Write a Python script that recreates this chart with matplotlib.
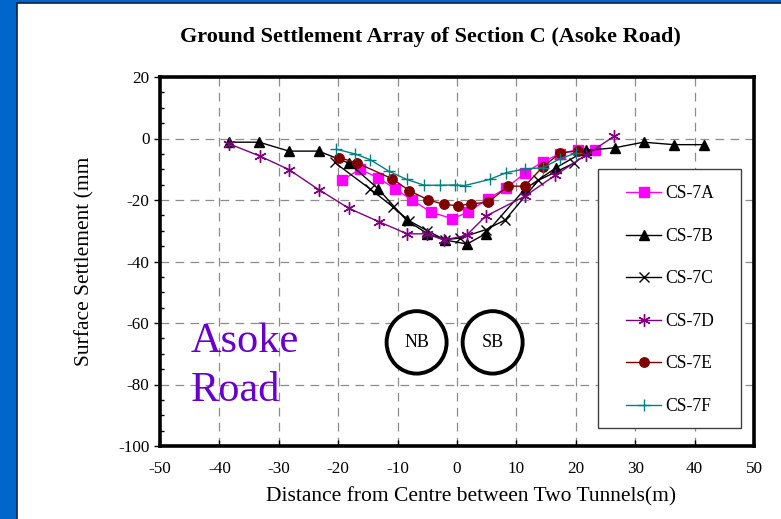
import numpy as np
import matplotlib
matplotlib.use('Agg')
import matplotlib.pyplot as plt
from matplotlib.patches import Rectangle, Ellipse
from matplotlib.ticker import MultipleLocator

plt.rcParams['font.family'] = ['Liberation Serif', 'DejaVu Serif']
plt.rcParams['axes.unicode_minus'] = False

# settlement arrays (distance m, settlement mm)
x_7a = [-19.3, -16.4, -13.3, -10.5, -7.5, -4.4, -0.8, 1.8, 5.2, 8.3, 11.4, 14.4, 17.4, 20.4, 23.2]
y_7a = [-13.6, -10.0, -12.7, -16.3, -20.1, -23.9, -26.1, -24.0, -19.6, -16.1, -11.3, -7.6, -4.9, -3.6, -3.8]

x_7b = [-38.4, -33.3, -28.3, -23.3, -18.2, -13.3, -8.5, -5.0, -2.1, 1.7, 4.8, 11.4, 16.6, 21.7, 26.6, 31.4, 36.5, 41.6]
y_7b = [-1.2, -1.2, -4.1, -4.1, -8.0, -16.3, -26.6, -30.9, -33.0, -34.3, -31.0, -16.5, -9.6, -3.9, -3.0, -1.2, -2.0, -2.0]

x_7c = [-20.6, -14.7, -10.8, -8.1, -5.0, -2.1, 0.5, 4.9, 8.1, 13.7, 19.7]
y_7c = [-7.8, -16.3, -22.2, -26.7, -30.0, -32.9, -32.4, -29.6, -26.5, -13.6, -8.0]

x_7d = [-38.4, -33.2, -28.3, -23.3, -18.2, -13.1, -8.4, -5.1, -2.2, 1.6, 4.8, 11.4, 16.5, 21.7, 26.5]
y_7d = [-1.7, -5.7, -10.1, -16.6, -22.7, -27.1, -31.0, -31.0, -33.0, -31.5, -25.3, -18.8, -12.0, -5.4, 0.8]

x_7e = [-19.8, -16.8, -10.9, -8.0, -4.8, -2.2, 0.2, 2.3, 5.2, 8.6, 11.4, 14.4, 17.4, 20.4]
y_7e = [-6.2, -8.0, -13.1, -17.0, -20.0, -21.4, -21.9, -21.2, -20.8, -15.5, -15.5, -9.3, -4.7, -4.0]

x_7f = [-20.3, -17.2, -14.6, -11.5, -8.5, -5.5, -2.9, -0.4, 1.3, 5.5, 8.3, 11.4, 14.5, 17.3, 20.1]
y_7f = [-3.5, -5.0, -6.9, -10.6, -13.3, -15.2, -15.2, -15.1, -15.3, -13.3, -11.1, -9.9, -9.5, -6.6, -4.7]

tunnels = ['NB', 'SB']
tunnel_x = [-6.8, 6.0]
tunnel_y = -66.3

fig = plt.figure(figsize=(7.81, 5.19), dpi=100, facecolor='#0066CC')
# white slide area with dark edge
slide = Rectangle((17 / 781, -0.01), 1, 1.01 - 3 / 519, transform=fig.transFigure,
                  facecolor='white', edgecolor='#10213a', linewidth=1.2, zorder=-10)
fig.add_artist(slide)

ax = fig.add_axes([160 / 781, 1 - 446 / 519, 594 / 781, 369 / 519])
ax.set_zorder(5)
ax.set_facecolor('white')
ax.set_xlim(-50, 50)
ax.set_ylim(-100, 20)

ax.plot(x_7a, y_7a, color='#FF00FF', lw=1, marker='s', ms=7, label='CS-7A')
ax.plot(x_7b, y_7b, color='black', lw=1, marker='^', ms=7.5, label='CS-7B')
ax.plot(x_7c, y_7c, color='black', lw=1, marker='x', ms=7, mew=1, label='CS-7C')
ax.plot(x_7d, y_7d, color='#800080', lw=1, marker=(6, 2, 0), ms=9, mew=1, label='CS-7D')
ax.plot(x_7e, y_7e, color='#800000', lw=1, marker='o', ms=6.8, label='CS-7E')
ax.plot(x_7f, y_7f, color='#008080', lw=1, marker='+', ms=9, mew=1, label='CS-7F')

# tunnels
for name, tx in zip(tunnels, tunnel_x):
    ax.add_patch(Ellipse((tx, tunnel_y), 10.1, 20.3, facecolor='white', edgecolor='black',
                         linewidth=2.8, zorder=3))
    ax.text(tx, tunnel_y, name, ha='center', va='center', fontsize=13, zorder=4)

ax.text(-44.9, -85.5, 'Asoke\nRoad', color='#6600CC', fontsize=30.5, ha='left', va='baseline',
        linespacing=1.36)

ax.xaxis.set_major_locator(MultipleLocator(10))
ax.yaxis.set_major_locator(MultipleLocator(20))
ax.yaxis.set_minor_locator(MultipleLocator(5))
ax.grid(True, which='major', color='#8c8c8c', linestyle=(0, (7, 5)), linewidth=0.9)
ax.set_axisbelow(True)
ax.tick_params(axis='y', which='major', direction='out', length=4, width=1, labelsize=12.3)
ax.tick_params(axis='y', which='minor', direction='in', length=3, width=1)
ax.tick_params(axis='x', which='major', direction='in', length=4, width=1, labelsize=12.3, pad=11)
for s in ax.spines.values():
    s.set_linewidth(2.6)

ax.set_xlabel('Distance from Centre between Two Tunnels(m)', fontsize=15.5)
ax.xaxis.set_label_coords(0.5236, -0.138)
ax.xaxis.label.set_va('center')
ax.set_ylabel('Surface Settlement (mm', fontsize=15.5, labelpad=17)
fig.text(430 / 781, 1 - 37 / 519, 'Ground Settlement Array of Section C (Asoke Road)',
         ha='center', va='center', fontsize=16, fontweight='bold')

# legend frame drawn as a box, entries placed inside it
ax.add_patch(Rectangle((0.7374, 0.0488), 0.2407, 0.7019, transform=ax.transAxes,
                       facecolor='white', edgecolor='#404040', linewidth=1, zorder=6))
leg = ax.legend(loc='upper left', bbox_to_anchor=(0.7845, 0.707), borderaxespad=0,
                borderpad=0, fontsize=12.7, labelspacing=1.45, handlelength=2.0,
                handletextpad=0.25, frameon=False)
leg.set_zorder(7)

fig.savefig('out.png', dpi=100, facecolor=fig.get_facecolor())
